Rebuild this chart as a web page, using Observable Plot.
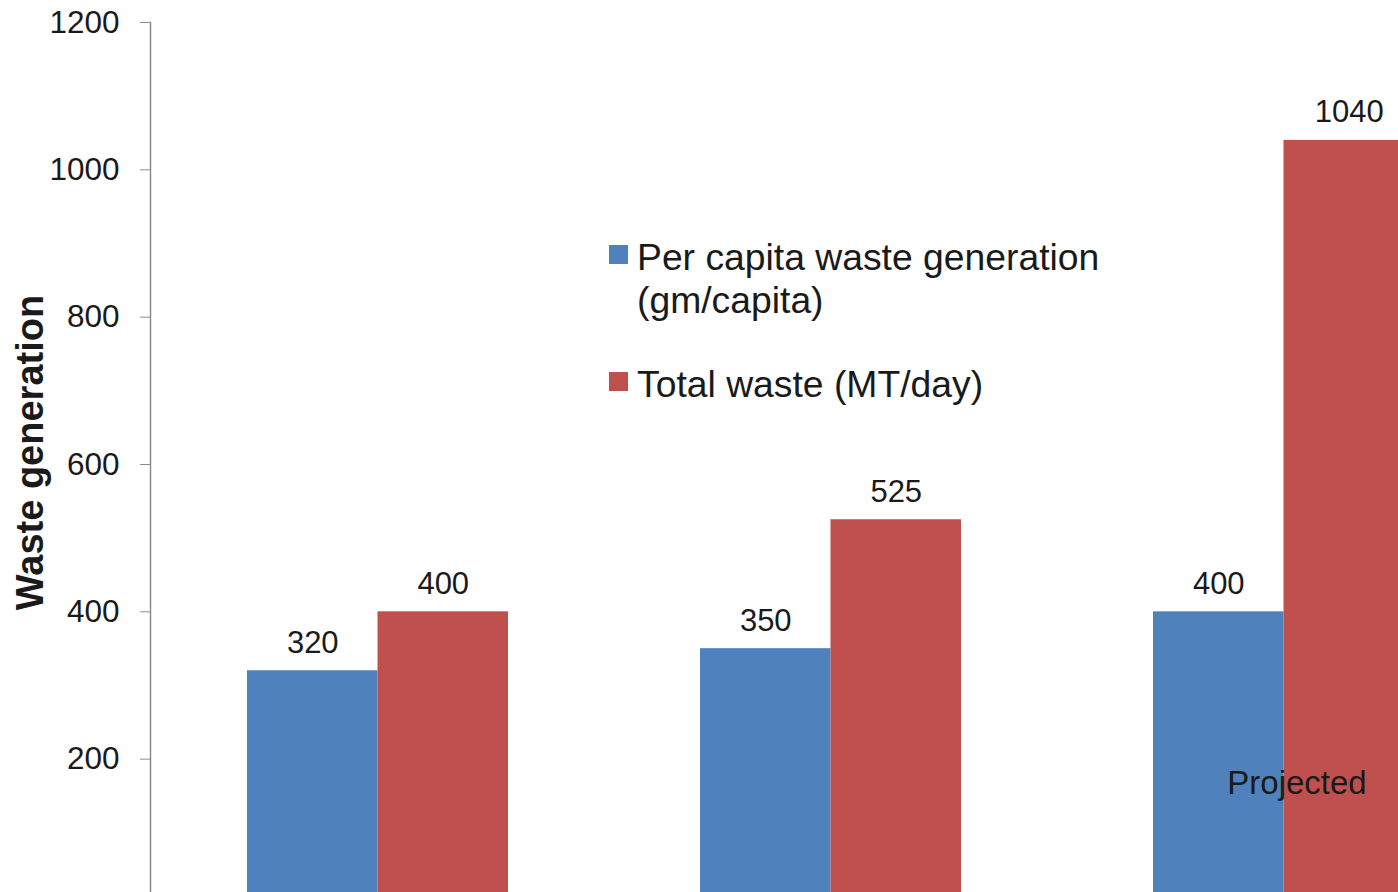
<!DOCTYPE html>
<html><head><meta charset="utf-8">
<script src="https://cdn.jsdelivr.net/npm/d3@7"></script>
<script src="https://cdn.jsdelivr.net/npm/@observablehq/plot@0.6"></script>
<style>
html,body{margin:0;padding:0;background:#fff;overflow:hidden;}
#wrap{position:relative;width:1398px;height:892px;}
#legend{position:absolute;left:609px;top:236px;font-family:"Liberation Sans",Arial,sans-serif;font-size:37.3px;color:#1a1a1a;}
.item{display:flex;align-items:flex-start;line-height:43px;white-space:nowrap;}
.sw{width:19px;height:19px;margin-top:9px;margin-right:9px;flex:none;}
</style></head>
<body><div id="wrap"><div id="chart"></div><div id="legend"></div></div>
<script>
const categories = ["Period 1", "Period 2", "Period 3"];
const perCapita = [320, 350, 400];
const totalWaste = [400, 525, 1040];
const seriesNames = ["Per capita waste generation<br>(gm/capita)", "Total waste (MT/day)"];
const seriesColors = ["#4F81BD", "#C0504D"];
const yTicks = [200, 400, 600, 800, 1000, 1200];
const yDomain = [0, 1200];
const yTitle = "Waste generation";
const annotationCategory = "Period 3";
const annotationText = "Projected";

const rows = categories.map((c, i) => ({category: c, perCapita: perCapita[i], total: totalWaste[i]}));
const font = '"Liberation Sans", Arial, sans-serif';
const halfBand = 130.5;
const ink = "#1a1a1a";

const chart = Plot.plot({
  width: 1398, height: 892,
  marginLeft: 150, marginRight: 0, marginTop: 22, marginBottom: 0,
  style: {fontFamily: font, background: "white"},
  x: {domain: categories, range: [150, 1510.5], paddingInner: 0.4245, paddingOuter: 0.21225, axis: null},
  y: {domain: yDomain, range: [906, 22]},
  marks: [
    Plot.barY(rows, {x: "category", y: "perCapita", fill: seriesColors[0], insetLeft: 0, insetRight: halfBand}),
    Plot.barY(rows, {x: "category", y: "total", fill: seriesColors[1], insetLeft: halfBand, insetRight: 0}),
    Plot.text(rows, {x: "category", y: "perCapita", text: d => String(d.perCapita), dx: -halfBand / 2, dy: -28, fontSize: 31, fill: ink}),
    Plot.text(rows, {x: "category", y: "total", text: d => String(d.total), dx: halfBand / 2, dy: -28, fontSize: 31, fill: ink}),
    Plot.text([annotationText], {x: () => annotationCategory, frameAnchor: "bottom", dy: -99, dx: 13, fontSize: 33, fill: ink}),
    Plot.frame({anchor: "left", stroke: "#8c8c8c", strokeWidth: 1.5}),
    Plot.axisY({ticks: yTicks, tickSize: 10, tickPadding: 21, fontSize: 31.5, stroke: "#8c8c8c", fill: ink, label: null, tickFormat: d => String(d)}),
    Plot.text([yTitle], {frameAnchor: "left", textAnchor: "middle", rotate: -90, dx: -120, dy: -5, fontSize: 38, fontWeight: "bold", fill: ink})
  ]
});
document.getElementById("chart").appendChild(chart);

const legend = document.getElementById("legend");
seriesNames.forEach((name, i) => {
  const item = document.createElement("div");
  item.className = "item";
  if (i > 0) item.style.marginTop = "41px";
  item.innerHTML = `<span class="sw" style="background:${seriesColors[i]}"></span><span>${name}</span>`;
  legend.appendChild(item);
});
</script>
</body></html>
